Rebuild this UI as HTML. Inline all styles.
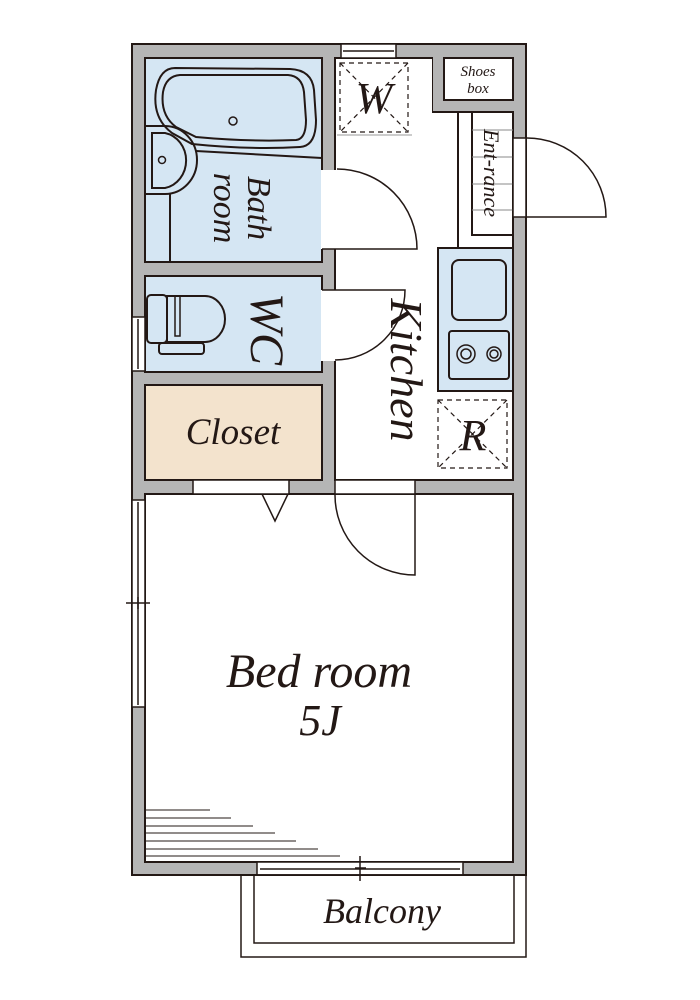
<!DOCTYPE html>
<html><head><meta charset="utf-8"><style>
html,body{margin:0;padding:0;background:#fff;}
svg{display:block}
text{font-family:"Liberation Serif",serif;font-style:italic;fill:#231815;}
</style></head><body>
<svg width="700" height="1000" viewBox="0 0 700 1000" xmlns="http://www.w3.org/2000/svg">
<g stroke="#231815" stroke-width="2">
<rect x="132" y="44" width="394" height="831" fill="#b5b5b5"/>
<rect x="145" y="58" width="177" height="204" fill="#d5e6f3"/>
<rect x="145" y="276" width="177" height="96" fill="#d5e6f3"/>
<rect x="145" y="385" width="177" height="95" fill="#f3e3cd"/>
<rect x="145" y="494" width="368" height="368" fill="#fff"/>
<path d="M335 58 H432 V112 H458 V248 H513 V480 H335 Z" fill="#fff"/>
<rect x="444" y="58" width="69" height="42" fill="#fff"/>
<rect x="458" y="112" width="55" height="136" fill="#fff"/>
<rect x="472" y="112" width="41" height="123" fill="#fff"/>
</g>
<rect x="336" y="59" width="96" height="188" fill="#fff"/>
<rect x="336" y="246" width="176" height="233" fill="#fff"/>
<line x1="458" y1="112" x2="458" y2="248" stroke="#231815" stroke-width="2"/>
<g stroke="#888" stroke-width="1">
<line x1="472" y1="130" x2="513" y2="130"/><line x1="472" y1="157" x2="513" y2="157"/>
<line x1="472" y1="184" x2="513" y2="184"/><line x1="472" y1="210" x2="513" y2="210"/>
</g>
<rect x="438" y="248" width="75" height="143" fill="#d5e6f3" stroke="#231815" stroke-width="2"/>
<rect x="452" y="260" width="54" height="60" rx="7" fill="#d5e6f3" stroke="#231815" stroke-width="2"/>
<rect x="449" y="331" width="60" height="48" rx="3" fill="#d5e6f3" stroke="#231815" stroke-width="2"/>
<g fill="none" stroke="#231815" stroke-width="1.5">
<circle cx="466" cy="354" r="9"/><circle cx="466" cy="354" r="5"/>
<circle cx="494" cy="354" r="7"/><circle cx="494" cy="354" r="4"/>
</g>
<g fill="#fff" stroke="#231815" stroke-width="1.5">
<rect x="341" y="44" width="55" height="14"/>
<rect x="513" y="138" width="13" height="79"/>
<rect x="132" y="317" width="13" height="54"/>
<rect x="132" y="500" width="13" height="207"/>
<rect x="257" y="862" width="206" height="13"/>
<rect x="193" y="480" width="96" height="14"/>
<rect x="335" y="480" width="80" height="14"/>
</g>
<rect x="321" y="170" width="15" height="79" fill="#fff"/>
<rect x="321" y="290" width="15" height="71" fill="#fff"/>
<g stroke="#231815" stroke-width="1.5" fill="none">
<line x1="138" y1="502" x2="138" y2="705"/>
<line x1="126" y1="603" x2="150" y2="603"/><line x1="138" y1="597" x2="138" y2="609"/>
<line x1="260" y1="869" x2="460" y2="869"/>
<line x1="360" y1="856" x2="360" y2="881"/><line x1="355" y1="868" x2="366" y2="868"/>
<line x1="138" y1="319" x2="138" y2="369"/>
<line x1="343" y1="51" x2="394" y2="51"/>
<path d="M527 138 A79 79 0 0 1 606 217 H527"/>
<path d="M322 249 H417 A80 80 0 0 0 337 169"/>
<path d="M322 290 H405 A70 70 0 0 1 335 360"/>
<path d="M415 494 V575 A80 80 0 0 1 335 494"/>
<path d="M262 494 L275 521 L288 494"/>
<rect x="241" y="875" width="285" height="82"/>
<rect x="254" y="875" width="260" height="68"/>
<path d="M175 68 Q160 68 156 90 Q152 118 172 133 L192 144 Q250 150 300 147 Q316 146 316 120 L314 90 Q312 70 290 69 Z" stroke-width="2"/>
<path d="M180 75 Q166 76 163 92 Q160 115 176 127 L196 137 Q250 142 296 140 Q306 139 306 120 L304 92 Q302 76 288 75 Z" stroke-width="2"/>
<line x1="196" y1="151" x2="322" y2="158" stroke-width="2"/>
<circle cx="233" cy="121" r="4"/>
<path d="M145 126 H165 A32 34 0 0 1 165 194 H145" stroke-width="2"/>
<path d="M152 133 H165 A26 28 0 0 1 165 188 H152 Z" stroke-width="2"/>
<circle cx="162" cy="160" r="3.5"/>
<line x1="170" y1="194" x2="170" y2="262" stroke-width="2"/>
<rect x="147" y="295" width="20" height="48" rx="4" fill="#d5e6f3" stroke-width="2"/>
<path d="M167 296 H205 A20 23 0 0 1 205 342 H167 Z" fill="#d5e6f3" stroke-width="2"/>
<rect x="175" y="296" width="5" height="40" stroke-width="1.5"/>
<rect x="159" y="343" width="45" height="11" rx="3" fill="#d5e6f3" stroke-width="2"/>
</g>
<g stroke="#231815" stroke-width="1.2" fill="none" stroke-dasharray="5 4">
<rect x="340" y="63" width="68" height="69"/>
<line x1="340" y1="63" x2="408" y2="132"/><line x1="408" y1="63" x2="340" y2="132"/>
<rect x="438" y="400" width="69" height="68"/>
<line x1="438" y1="400" x2="507" y2="468"/><line x1="507" y1="400" x2="438" y2="468"/>
</g>
<line x1="337" y1="135" x2="412" y2="135" stroke="#999" stroke-width="1"/>
<g stroke="#231815" stroke-width="1">
<line x1="146" y1="810" x2="210" y2="810"/><line x1="146" y1="818" x2="231" y2="818"/>
<line x1="146" y1="826" x2="253" y2="826"/><line x1="146" y1="833" x2="275" y2="833"/>
<line x1="146" y1="841" x2="296" y2="841"/><line x1="146" y1="849" x2="318" y2="849"/>
<line x1="146" y1="856" x2="340" y2="856"/>
</g>
<text x="374" y="113" font-size="44" text-anchor="middle">W</text>
<text x="473" y="450" font-size="44" text-anchor="middle">R</text>
<text x="478" y="76" font-size="15" text-anchor="middle">Shoes</text>
<text x="478" y="93" font-size="15" text-anchor="middle">box</text>
<text x="233" y="444" font-size="37" text-anchor="middle">Closet</text>
<text x="319" y="687" font-size="48" text-anchor="middle">Bed room</text>
<text x="320" y="735" font-size="44" text-anchor="middle">5J</text>
<text x="382" y="923" font-size="36" text-anchor="middle">Balcony</text>
<text transform="translate(248,208) rotate(90)" font-size="34" text-anchor="middle">Bath</text>
<text transform="translate(214,208) rotate(90)" font-size="34" text-anchor="middle">room</text>
<text transform="translate(251,329) rotate(90)" font-size="48" text-anchor="middle">WC</text>
<text transform="translate(391,370) rotate(90)" font-size="46" text-anchor="middle">Kitchen</text>
<text transform="translate(484,173) rotate(90)" font-size="22" text-anchor="middle">Ent-rance</text>
</svg>
</body></html>
